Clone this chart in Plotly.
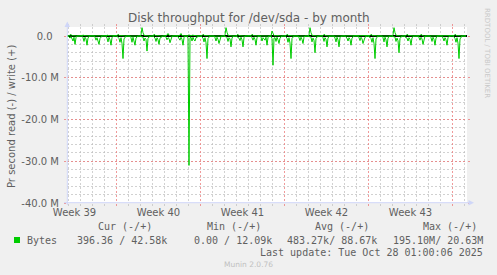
import plotly.graph_objects as go
import pandas as pd

# ---------------- data (MB/s, 2-hour samples, grouped per 24h) ----------------
START = "2025-09-24 21:00"
END = "2025-10-28 05:00"
STEP = "2h"

READ_M = [
    [0, 0, 0.2, 0.5, 0.1, 0.8, 1.2, 0.3, 2.0, 0.4, 0, 0],
    [0, 0, 0, 0, 0.4, 1.3, 0.3, 0.7, 2.2, 0.5, 0.1, 0],
    [0, 0, 0, 0, 0.3, 1.0, 0.4, 1.1, 2.0, 0.6, 0.1, 0],
    [0, 0, 0, 0, 0.5, 1.4, 0.3, 0.9, 2.2, 0.4, 0.1, 0],
    [0, 0, 0, 0.3, 0.6, 1.5, 0.4, 1.8, 5.4, 0.7, 0.3, 0],
    [0, 0, 0, 0, 0.4, 1.5, 0.3, 1.0, 2.2, 0.5, 0.1, 0],
    [0, 0, 0.2, 0.1, 0.3, 1.2, 0.5, 0.8, 3.6, 0.6, 0.2, 0],
    [0, 0, 0, 0.2, 0.5, 1.3, 0.4, 0.9, 2.0, 0.5, 0.3, 0.1],
    [0, 0, 0, 0.3, 0.9, 0.4, 0.6, 1.6, 0.5, 0.1, 0, 0],
    [0, 0, 0, 0.2, 0.6, 1.0, 0.3, 0.8, 2.2, 0.4, 0, 0],
    [0, 0.5, 31.0, 0.4, 0.3, 1.2, 0.3, 0.9, 1.2, 0.4, 0.2, 0],
    [0, 0, 0, 0.2, 0.5, 1.4, 0.4, 1.6, 5.4, 0.6, 0.2, 0],
    [0, 0, 0, 0, 0.4, 1.2, 0.3, 0.8, 1.8, 0.5, 0.1, 0],
    [0, 0, 0.2, 0.1, 0.4, 1.3, 0.4, 0.7, 2.6, 0.5, 0.1, 0],
    [0, 0, 0.2, 0.3, 0.5, 1.1, 0.3, 0.9, 2.6, 0.4, 0, 0],
    [0, 0, 0, 0, 0, 0.4, 1.0, 0.3, 0.8, 2.2, 0.4, 0.1],
    [0, 0, 0.3, 1.2, 0.4, 0.6, 1.0, 0.3, 2.2, 0.4, 0, 0],
    [0, 0.6, 7.0, 0.5, 0.4, 1.3, 0.3, 0.9, 1.8, 0.5, 0.1, 0],
    [0, 0, 0, 0.2, 0.5, 1.5, 0.4, 1.7, 5.4, 0.6, 0.2, 0],
    [0, 0, 0, 0, 0.4, 1.1, 0.3, 0.8, 1.8, 0.3, 0, 0],
    [0, 0, 0.2, 0.1, 0.3, 1.4, 0.5, 1.0, 4.0, 0.6, 0.2, 0],
    [0, 0, 0, 0, 0.4, 1.3, 0.4, 0.8, 2.6, 0.5, 0.1, 0],
    [0, 0, 0, 0, 0.5, 1.4, 0.3, 0.9, 2.6, 0.4, 0.1, 0],
    [0, 0, 0, 0.3, 0.5, 1.2, 0.4, 0.8, 2.2, 0.5, 0.1, 0],
    [0, 0, 0, 0, 0.4, 1.1, 0.3, 0.7, 1.8, 0.6, 0.3, 0.1],
    [0, 0, 0.2, 0.3, 0.6, 1.5, 0.4, 1.8, 5.4, 0.7, 0.3, 0],
    [0, 0, 0, 0, 0.4, 1.4, 0.3, 0.9, 2.6, 0.5, 0.1, 0],
    [0, 0, 0.2, 0.1, 0.3, 1.3, 0.5, 1.1, 4.0, 0.6, 0.2, 0],
    [0, 0, 0.2, 0.3, 0.5, 1.2, 0.4, 0.8, 2.2, 0.4, 0.1, 0],
    [0, 0, 0, 0, 0.4, 1.0, 0.3, 0.7, 2.0, 0.4, 0, 0],
    [0, 0, 0, 0, 0.4, 1.3, 0.3, 0.8, 2.2, 0.5, 0.1, 0],
    [0, 0, 0, 0, 0.5, 1.2, 0.4, 0.9, 2.2, 0.4, 0.1, 0],
    [0, 0, 0, 0.2, 0.6, 1.5, 0.4, 1.7, 5.4, 0.7, 0.2, 0],
    [0, 0, 0, 0.0004],
]

WRITE_M = [
    [0, 0, 0.1, 0.2, 0.4, 0.1, 0.05, 0.1, 0.05, 0, 0, 0],
    [0, 0, 0, 0.1, 0.2, 0.05, 0.1, 0.05, 0.05, 0.05, 0, 0],
    [0, 0, 0, 0.05, 0.15, 0.05, 0.05, 0.1, 0.05, 0, 0, 0],
    [0, 0, 0, 0.05, 0.2, 0.05, 0.1, 0.05, 0.05, 0, 0, 0],
    [0, 0, 0.1, 0.4, 0.2, 0.05, 0.1, 0.05, 0.1, 0.05, 0.05, 0],
    [0, 0, 0, 0.05, 0.15, 0.05, 0.1, 0.05, 0.05, 0, 0, 0],
    [0, 0, 0.3, 2.0, 0.8, 0.2, 0.1, 0.05, 0.1, 0.05, 0, 0],
    [0, 0, 0, 0.4, 0.2, 0.05, 0.1, 0.05, 0.05, 0.05, 0, 0],
    [0, 0, 0, 0.1, 0.2, 0.6, 0.2, 0.05, 0, 0, 0, 0],
    [0, 0, 0, 0.05, 0.1, 0.2, 0.6, 0.1, 0.05, 0, 0, 0],
    [0, 0.1, 0.3, 0.1, 0.05, 0.2, 0.1, 0.15, 0.1, 0.05, 0, 0],
    [0, 0, 0, 0.1, 0.4, 0.1, 0.05, 0.1, 0.05, 0.05, 0, 0],
    [0, 0, 0, 0.05, 0.15, 0.05, 0.1, 0.05, 0.05, 0, 0, 0],
    [0, 0, 0.3, 2.0, 0.9, 0.2, 0.1, 0.05, 0.1, 0.05, 0, 0],
    [0, 0, 0.2, 0.4, 0.1, 0.05, 0.1, 0.05, 0.05, 0, 0, 0],
    [0, 0, 0, 0, 0.1, 0.4, 0.1, 0.05, 0.05, 0.05, 0, 0],
    [0, 0, 0.05, 0.15, 0.1, 0.05, 0.1, 0.05, 0.05, 0, 0, 0],
    [0, 1.2, 0.3, 0.1, 0.05, 0.1, 0.05, 0.1, 0.05, 0, 0, 0],
    [0, 0, 0, 0.1, 0.4, 0.1, 0.05, 0.1, 0.05, 0.05, 0, 0],
    [0, 0, 0, 0.05, 0.15, 0.05, 0.1, 0.05, 0.05, 0, 0, 0],
    [0, 0, 0.3, 2.0, 0.8, 0.2, 0.1, 0.05, 0.1, 0.05, 0, 0],
    [0, 0, 0, 0.05, 0.1, 0.4, 0.1, 0.05, 0.05, 0, 0, 0],
    [0, 0, 0, 0.05, 0.15, 0.05, 0.1, 0.05, 0.05, 0, 0, 0],
    [0, 0, 0, 0.1, 0.15, 0.05, 0.1, 0.05, 0.05, 0, 0, 0],
    [0, 0, 0, 0.05, 0.1, 0.05, 0.1, 0.05, 0.05, 0.05, 0, 0],
    [0, 0, 0.05, 0.1, 0.4, 0.1, 0.05, 0.1, 0.05, 0.05, 0, 0],
    [0, 0, 0, 0.05, 0.15, 0.05, 0.1, 0.05, 0.05, 0, 0, 0],
    [0, 0, 0.3, 2.0, 0.8, 0.2, 0.1, 0.05, 0.1, 0.05, 0, 0],
    [0, 0, 0.05, 0.1, 0.4, 0.1, 0.05, 0.1, 0.05, 0, 0, 0],
    [0, 0, 0, 0.05, 0.1, 0.1, 0.4, 0.1, 0.05, 0, 0, 0],
    [0, 0, 0, 0.05, 0.15, 0.05, 0.1, 0.05, 0.05, 0, 0, 0],
    [0, 0, 0, 0.05, 0.15, 0.05, 0.1, 0.05, 0.05, 0, 0, 0],
    [0, 0, 0, 0.1, 0.4, 0.1, 0.05, 0.1, 0.05, 0.05, 0, 0],
    [0, 0, 0.02, 0.04],
]

WEEK_LABELS = ["Week 39", "Week 40", "Week 41", "Week 42", "Week 43"]
WEEK_LABEL_AT = ["2025-09-25 12:00", "2025-10-02 12:00", "2025-10-09 12:00",
                 "2025-10-16 12:00", "2025-10-23 12:00"]
Y_TICKS = [-40e6, -30e6, -20e6, -10e6, 0]
Y_TICK_TEXT = ["-40.0 M", "-30.0 M", "-20.0 M", "-10.0 M", "0.0\u00a0\u00a0"]

SERIES_NAME = "Bytes"
STAT_HEADERS = ["Cur (-/+)", "Min (-/+)", "Avg (-/+)", "Max (-/+)"]
STAT_VALUES = ["396.36 / 42.58k", "0.00 / 12.09k", "483.27k/ 88.67k", "195.10M/ 20.63M"]
LAST_UPDATE = "Last update: Tue Oct 28 01:00:06 2025"
TITLE = "Disk throughput for /dev/sda - by month"
Y_TITLE = "Pr second read (-) / write (+)"

# ---------------- build ----------------
read_vals = [-v * 1e6 for day in READ_M for v in day]
write_vals = [v * 1e6 for day in WRITE_M for v in day]
times = pd.date_range(START, periods=len(read_vals), freq=STEP)

GREEN = "#00CC00"
FONT_C = "#606060"
AXIS_C = "#CFD6F8"
MGRID = "rgba(235,120,120,0.75)"
GRID = "rgba(190,190,190,0.7)"

W, H = 497, 275
ML, MR, MT, MB = 67, 30, 27, 72
PW, PH = W - ML - MR, H - MT - MB


def px(xp):
    return (xp - ML) / PW


def py(yp):
    return (MT + PH - yp) / PH


fig = go.Figure()
fig.add_trace(go.Scatter(x=times, y=read_vals, mode="lines",
                         line=dict(color=GREEN, width=1), showlegend=False,
                         hoverinfo="skip"))
fig.add_trace(go.Scatter(x=times, y=write_vals, mode="lines", xaxis="x2",
                         line=dict(color=GREEN, width=1), showlegend=False,
                         hoverinfo="skip"))

fig.update_layout(
    width=W, height=H,
    margin=dict(l=ML, r=MR, t=MT, b=MB, pad=0),
    paper_bgcolor="#F0F0F0",
    plot_bgcolor="#FFFFFF",
    font=dict(family="DejaVu Sans", size=10, color=FONT_C),
    xaxis=dict(
        type="date", range=[START, END],
        tickmode="linear", tick0="2025-09-29", dtick=7 * 86400000,
        showticklabels=False, showgrid=True, gridcolor=MGRID, griddash="2px,2px",
        gridwidth=1, ticks="outside", ticklen=2, tickcolor=MGRID, mirror="ticks",
        showline=False, zeroline=False,
        minor=dict(tick0="2025-09-25", dtick=86400000, showgrid=True,
                   gridcolor=GRID, griddash="2px,2px", ticks="outside",
                   ticklen=2, tickcolor=GRID),
    ),
    xaxis2=dict(
        type="date", range=[START, END], overlaying="x", anchor="y", side="bottom",
        tickmode="array", tickvals=WEEK_LABEL_AT, ticktext=WEEK_LABELS,
        showgrid=False, ticks="", showline=False, zeroline=False,
        tickfont=dict(size=10, color=FONT_C, family="DejaVu Sans"),
        ticklabelstandoff=2,
    ),
    yaxis=dict(
        range=[-40e6, 2.16e6],
        tickmode="array", tickvals=Y_TICKS, ticktext=Y_TICK_TEXT,
        showgrid=True, gridcolor=MGRID, griddash="2px,2px",
        ticks="outside", ticklen=2, tickcolor=MGRID, mirror="ticks",
        showline=False, zeroline=True, zerolinecolor="#000000", zerolinewidth=1.5,
        ticklabelstandoff=3,
        tickfont=dict(size=10, color=FONT_C, family="DejaVu Sans"),
        minor=dict(dtick=2e6, tick0=0, showgrid=True, gridcolor=GRID,
                   griddash="2px,2px"),
    ),
)

# axis lines with arrows
shapes = [
    dict(type="line", xref="paper", yref="paper", x0=px(67.3), x1=px(67.3),
         y0=py(205), y1=py(24), line=dict(color=AXIS_C, width=1)),
    dict(type="line", xref="paper", yref="paper", x0=px(64), x1=px(470),
         y0=py(202.7), y1=py(202.7), line=dict(color=AXIS_C, width=1)),
    dict(type="path", xref="paper", yref="paper",
         path=f"M {px(64.5)} {py(27)} L {px(70.1)} {py(27)} L {px(67.3)} {py(21.5)} Z",
         fillcolor=AXIS_C, line=dict(color=AXIS_C, width=0)),
    dict(type="path", xref="paper", yref="paper",
         path=f"M {px(468.5)} {py(199.9)} L {px(468.5)} {py(205.5)} L {px(474)} {py(202.7)} Z",
         fillcolor=AXIS_C, line=dict(color=AXIS_C, width=0)),
    # legend colour box
    dict(type="rect", xref="paper", yref="paper", x0=px(14), x1=px(20),
         y0=py(243), y1=py(237), fillcolor=GREEN, line=dict(color=GREEN, width=0)),
]
fig.update_layout(shapes=shapes)

MONO = "DejaVu Sans Mono"
ann = []


def txt(text, x, y, xanchor="left", size=10, color=FONT_C, family=MONO, angle=0):
    ann.append(dict(text=text, x=px(x), y=py(y), xref="paper", yref="paper",
                    xanchor=xanchor, yanchor="middle", showarrow=False,
                    textangle=angle, borderpad=0, borderwidth=0,
                    font=dict(size=size, color=color, family=family)))


txt(TITLE, 248.5, 18, xanchor="center", size=12, family="DejaVu Sans")
txt(Y_TITLE, 12, 116, xanchor="center", size=10, family="DejaVu Sans", angle=-90)
txt("RRDTOOL / TOBI OETIKER", 487, 53, xanchor="center", size=7,
    color="#C8C8C8", family="DejaVu Sans", angle=90)

for h, xc in zip(STAT_HEADERS, [125, 233.5, 341.5, 450]):
    txt(h, xc, 227, xanchor="center")
txt(SERIES_NAME, 26.5, 240)
for v, xl in zip(STAT_VALUES, [77.3, 194.3, 287.3, 392.7]):
    txt(v, xl, 240)
txt(LAST_UPDATE, 482.5, 252, xanchor="right")
txt("Munin 2.0.76", 248, 264, xanchor="center", size=7.5, color="#C0C0C0",
    family="DejaVu Sans")

fig.update_layout(annotations=ann)

fig.write_html("out.html")
